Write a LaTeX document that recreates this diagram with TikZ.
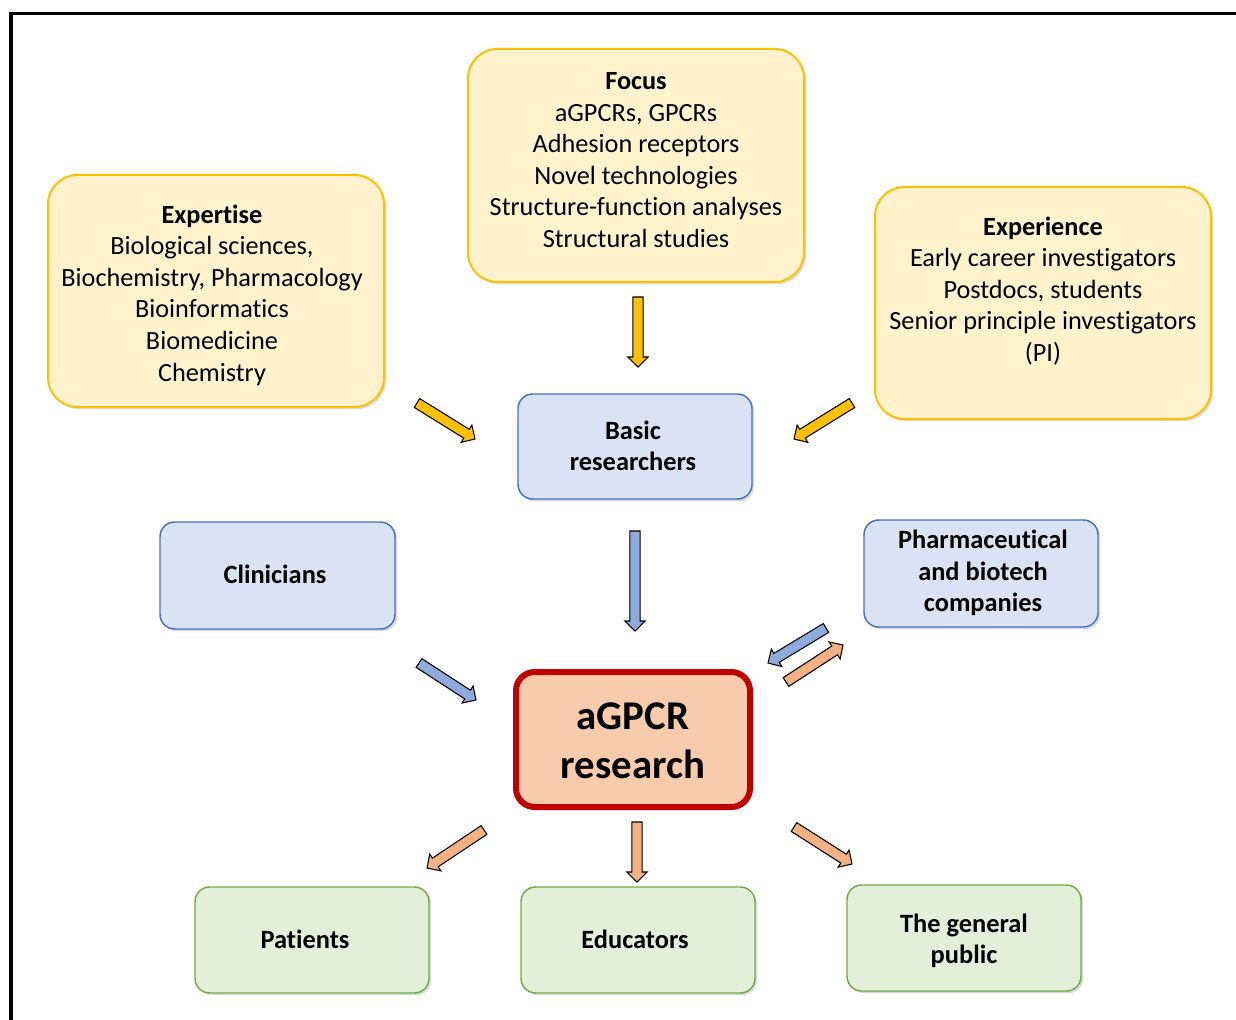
\documentclass[tikz,border=0pt]{standalone}
\usepackage{fontspec}
\setmainfont{Carlito}[Ligatures={NoCommon}]
\usetikzlibrary{calc,shadows}
\definecolor{yfill}{HTML}{FFF2CC}
\definecolor{ydraw}{HTML}{FFC000}
\definecolor{bfill}{HTML}{DAE3F3}
\definecolor{bdraw}{HTML}{4472C4}
\definecolor{gfill}{HTML}{E2F0D9}
\definecolor{gdraw}{HTML}{70AD47}
\definecolor{rfill}{HTML}{F8CBAD}
\definecolor{rdraw}{HTML}{C00000}
\definecolor{arry}{HTML}{FFC000}
\definecolor{arrb}{HTML}{8FAADC}
\definecolor{arro}{HTML}{F4B183}
\newcommand\blockarrow[3]{%
  \path (#1) coordinate (ba) (#2) coordinate (bb);
  \path ($(bb)!7.5pt!(ba)$) coordinate (bh);
  \draw[fill=#3, line width=0.8pt, line join=miter]
    ($(ba)!3.9pt!90:(bb)$) -- ($(bh)!3.9pt!90:(bb)$) -- ($(bh)!7.6pt!90:(bb)$)
    -- (bb) -- ($(bh)!7.6pt!-90:(bb)$) -- ($(bh)!3.9pt!-90:(bb)$)
    -- ($(ba)!3.9pt!-90:(bb)$) -- cycle;}
\tikzset{
  base/.style={rounded corners=#1, drop shadow={shadow xshift=1.6pt, shadow yshift=-1.6pt, opacity=0.3}},
  ybox/.style={base=22pt, fill=yfill, draw=ydraw, line width=1.5pt},
  bbox/.style={base=11pt, fill=bfill, draw=bdraw, line width=1.1pt},
  gbox/.style={base=11pt, fill=gfill, draw=gdraw, line width=1.1pt},
  rbox/.style={base=14pt, fill=rfill, draw=rdraw, line width=4.5pt},
  txt/.style={align=center, inner sep=0pt, font=\fontsize{19.7}{23.7}\selectfont},
  btxt/.style={txt, font=\fontsize{19.8}{23.7}\selectfont\bfseries},
}
\begin{document}
\begin{tikzpicture}[x=0.75pt,y=-0.75pt]
\useasboundingbox (0,0) rectangle (1236,1020);
% frame
\draw[line width=2.3pt] (1236,13.5) -- (11,13.5) -- (11,1020);
% boxes
\path[ybox] (468,49) rectangle (804,282);
\node (focus) at (636,165.5) [minimum width=252pt, minimum height=174.75pt] {};
\path[ybox] (48,175) rectangle (384,407);
\node (expertise) at (216,291) [minimum width=252pt, minimum height=174pt] {};
\path[ybox] (875,187) rectangle (1211,419);
\node (experience) at (1043,303) [minimum width=252pt, minimum height=174pt] {};
\path[bbox] (518,394) rectangle (752,499);
\node (basic) at (635,446.5) [minimum width=175.5pt, minimum height=78.75pt] {};
\path[bbox] (160,522) rectangle (395,629);
\node (clin) at (277.5,575.5) [minimum width=176pt, minimum height=80pt] {};
\path[bbox] (864,520) rectangle (1098,627);
\node (pharma) at (981,573.5) [minimum width=175.5pt, minimum height=80pt] {};
\path[rbox] (516,672) rectangle (750,807);
\node (agpcr) at (633,739.5) [minimum width=175.5pt, minimum height=101pt] {};
\path[gbox] (195,887) rectangle (429,993);
\node (patients) at (312,940) [minimum width=175.5pt, minimum height=79.5pt] {};
\path[gbox] (521,887) rectangle (755,993);
\node (educators) at (638,940) [minimum width=175.5pt, minimum height=79.5pt] {};
\path[gbox] (847,885) rectangle (1081,991);
\node (public) at (964,938) [minimum width=175.5pt, minimum height=79.5pt] {};
% texts
\node[txt] (focus-t) at (636,160) {\textbf{Focus}\\aGPCRs, GPCRs\\Adhesion receptors\\Novel technologies\\Structure-function analyses\\Structural studies};
\node[txt] (expertise-t) at (212,295) {\textbf{Expertise}\\Biological sciences,\\Biochemistry, Pharmacology\\Bioinformatics\\Biomedicine\\Chemistry};
\node[txt] (experience-t) at (1043,291) {\textbf{Experience}\\Early career investigators\\Postdocs, students\\Senior principle investigators\\(PI)};
\node[btxt] (basic-t) at (633,446) {Basic\\researchers};
\node[btxt] (clin-t) at (275,574) {Clinicians};
\node[btxt] (pharma-t) at (983,573) {Pharmaceutical\\and biotech\\companies};
\node[align=center, inner sep=0pt, font=\fontsize{30.6}{36.75}\selectfont\bfseries] (agpcr-t) at (633,741) {aGPCR\\research};
\node[btxt] (patients-t) at (305,939) {Patients};
\node[btxt] (educators-t) at (635,939) {Educators};
\node[btxt] (public-t) at (964,941) {The general\\public};
% arrow ends
\coordinate (a1s) at (638,297); \coordinate (a1e) at (638,367);
\coordinate (a2s) at (417,403); \coordinate (a2e) at (475,439);
\coordinate (a3s) at (852,403); \coordinate (a3e) at (794,439);
\coordinate (a4s) at (635,531); \coordinate (a4e) at (635,631);
\coordinate (a5s) at (419,663); \coordinate (a5e) at (476,700);
\coordinate (a6s) at (826,628); \coordinate (a6e) at (768,663);
\coordinate (a7s) at (786,682); \coordinate (a7e) at (843,645);
\coordinate (a8s) at (484,830); \coordinate (a8e) at (427,868);
\coordinate (a9s) at (637,822); \coordinate (a9e) at (637,882);
\coordinate (a10s) at (794,827); \coordinate (a10e) at (852,864);
\blockarrow{a1s}{a1e}{arry}
\blockarrow{a2s}{a2e}{arry}
\blockarrow{a3s}{a3e}{arry}
\blockarrow{a4s}{a4e}{arrb}
\blockarrow{a5s}{a5e}{arrb}
\blockarrow{a6s}{a6e}{arrb}
\blockarrow{a7s}{a7e}{arro}
\blockarrow{a8s}{a8e}{arro}
\blockarrow{a9s}{a9e}{arro}
\blockarrow{a10s}{a10e}{arro}
\end{tikzpicture}
\end{document}
